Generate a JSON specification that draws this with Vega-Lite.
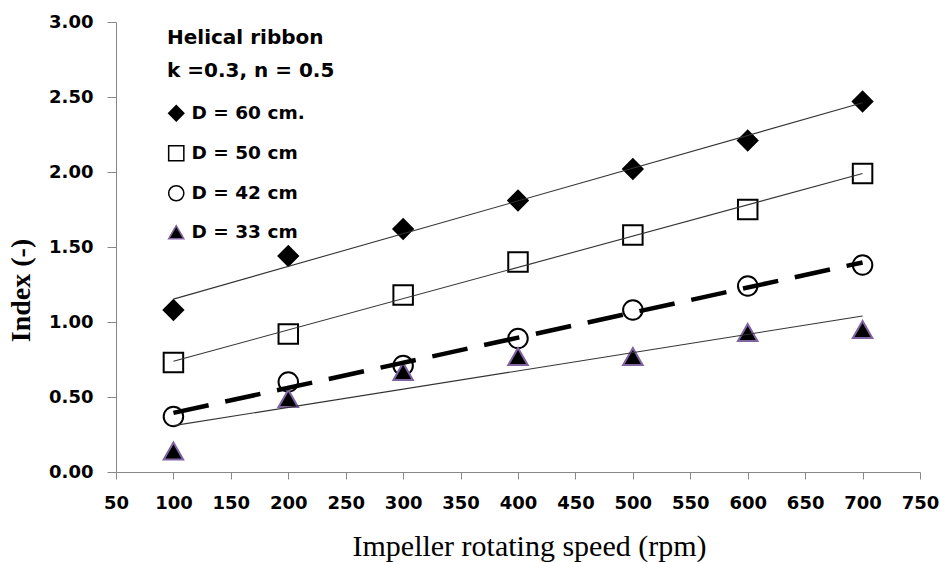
{
  "$schema": "https://vega.github.io/schema/vega-lite/v6.json",
  "width": 804,
  "height": 450,
  "autosize": "none",
  "padding": {"left": 116, "top": 22, "right": 20, "bottom": 90},
  "background": "white",
  "data": {
    "values": [
      {"x": 100, "y": 1.08, "s": "D = 60 cm."},
      {"x": 200, "y": 1.44, "s": "D = 60 cm."},
      {"x": 300, "y": 1.62, "s": "D = 60 cm."},
      {"x": 400, "y": 1.81, "s": "D = 60 cm."},
      {"x": 500, "y": 2.02, "s": "D = 60 cm."},
      {"x": 600, "y": 2.21, "s": "D = 60 cm."},
      {"x": 700, "y": 2.47, "s": "D = 60 cm."},
      {"x": 100, "y": 0.73, "s": "D = 50 cm"},
      {"x": 200, "y": 0.92, "s": "D = 50 cm"},
      {"x": 300, "y": 1.18, "s": "D = 50 cm"},
      {"x": 400, "y": 1.40, "s": "D = 50 cm"},
      {"x": 500, "y": 1.58, "s": "D = 50 cm"},
      {"x": 600, "y": 1.75, "s": "D = 50 cm"},
      {"x": 700, "y": 1.99, "s": "D = 50 cm"},
      {"x": 100, "y": 0.37, "s": "D = 42 cm"},
      {"x": 200, "y": 0.60, "s": "D = 42 cm"},
      {"x": 300, "y": 0.71, "s": "D = 42 cm"},
      {"x": 400, "y": 0.89, "s": "D = 42 cm"},
      {"x": 500, "y": 1.08, "s": "D = 42 cm"},
      {"x": 600, "y": 1.24, "s": "D = 42 cm"},
      {"x": 700, "y": 1.38, "s": "D = 42 cm"},
      {"x": 100, "y": 0.14, "s": "D = 33 cm"},
      {"x": 200, "y": 0.49, "s": "D = 33 cm"},
      {"x": 300, "y": 0.67, "s": "D = 33 cm"},
      {"x": 400, "y": 0.77, "s": "D = 33 cm"},
      {"x": 500, "y": 0.77, "s": "D = 33 cm"},
      {"x": 600, "y": 0.93, "s": "D = 33 cm"},
      {"x": 700, "y": 0.95, "s": "D = 33 cm"}
    ]
  },
  "encoding": {
    "x": {
      "field": "x", "type": "quantitative",
      "scale": {"domain": [50, 750], "nice": false, "zero": false},
      "axis": {
        "title": "Impeller rotating speed (rpm)",
        "values": [50, 100, 150, 200, 250, 300, 350, 400, 450, 500, 550, 600, 650, 700, 750],
        "tickSize": 7, "labelPadding": 15, "labelFlush": false, "labelOverlap": false,
        "titleFont": "Liberation Serif", "titleFontSize": 30, "titleFontWeight": "normal",
        "titleX": 413, "titleY": 83, "titleBaseline": "alphabetic", "titleAlign": "center"
      }
    },
    "y": {
      "field": "y", "type": "quantitative",
      "scale": {"domain": [0, 3], "nice": false},
      "axis": {
        "title": "Index (-)",
        "values": [0, 0.5, 1, 1.5, 2, 2.5, 3],
        "format": ".2f",
        "tickSize": 9, "labelPadding": 14, "labelFlush": false,
        "titleFont": "Liberation Serif", "titleFontSize": 28, "titleFontWeight": "bold",
        "titleX": -81, "titleY": 268, "titleAngle": -90, "titleBaseline": "bottom", "titleAlign": "center"
      }
    }
  },
  "layer": [
    {
      "mark": {"type": "point", "filled": true, "size": 380, "strokeWidth": 2, "opacity": 1},
      "encoding": {
        "shape": {
          "field": "s", "type": "nominal", "title": ["Helical ribbon", "k =0.3, n = 0.5"],
          "scale": {"domain": ["D = 60 cm.", "D = 50 cm", "D = 42 cm", "D = 33 cm"], "range": ["diamond", "square", "circle", "triangle-up"]}
        },
        "fill": {
          "field": "s", "type": "nominal", "title": ["Helical ribbon", "k =0.3, n = 0.5"],
          "scale": {"domain": ["D = 60 cm.", "D = 50 cm", "D = 42 cm", "D = 33 cm"], "range": ["#000000", "#ffffff", "#ffffff", "#000000"]}
        },
        "stroke": {
          "field": "s", "type": "nominal", "title": ["Helical ribbon", "k =0.3, n = 0.5"],
          "scale": {"domain": ["D = 60 cm.", "D = 50 cm", "D = 42 cm", "D = 33 cm"], "range": ["#000000", "#000000", "#000000", "#8064A2"]}
        }
      }
    },
    {
      "transform": [
        {"filter": "datum.s !== 'D = 42 cm'"},
        {"regression": "y", "on": "x", "groupby": ["s"]}
      ],
      "mark": {"type": "line", "color": "#333333", "strokeWidth": 1.1},
      "encoding": {"detail": {"field": "s", "type": "nominal"}}
    },
    {
      "transform": [
        {"filter": "datum.s === 'D = 42 cm'"},
        {"regression": "y", "on": "x", "groupby": ["s"]}
      ],
      "mark": {"type": "line", "color": "#000000", "strokeWidth": 4.5, "strokeDash": [36, 17], "strokeCap": "butt"},
      "encoding": {"detail": {"field": "s", "type": "nominal"}}
    }
  ],
  "config": {
    "view": {"stroke": null},
    "axis": {
      "grid": false,
      "domainColor": "#888888",
      "tickColor": "#888888",
      "labelFont": "DejaVu Sans",
      "labelFontWeight": "bold",
      "labelFontSize": 18,
      "labelColor": "#000000",
      "titleColor": "#000000"
    },
    "legend": {
      "orient": "none",
      "legendX": 51,
      "legendY": 6,
      "padding": 0,
      "titleFont": "DejaVu Sans",
      "titleFontSize": 20,
      "titleFontWeight": "bold",
      "titleColor": "#000000",
      "titleLineHeight": 33,
      "titlePadding": 23,
      "labelFont": "DejaVu Sans",
      "labelFontSize": 18.5,
      "labelFontWeight": "bold",
      "labelColor": "#000000",
      "labelOffset": 6,
      "symbolSize": 230,
      "symbolStrokeWidth": 1.5,
      "rowPadding": 18
    }
  }
}
